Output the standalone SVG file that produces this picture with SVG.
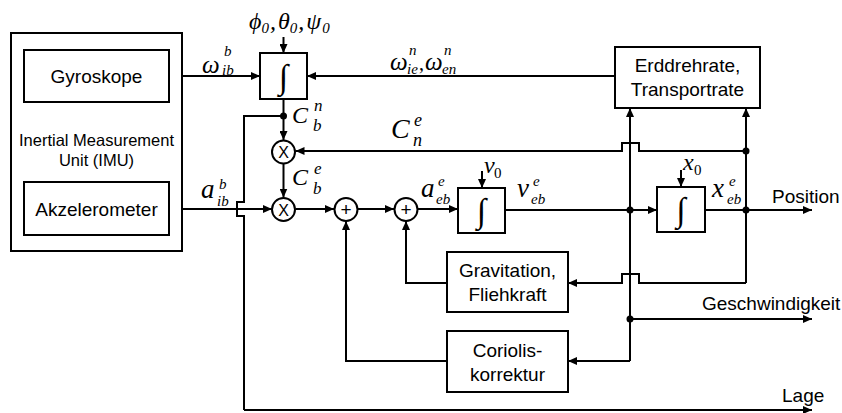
<svg xmlns="http://www.w3.org/2000/svg" width="842" height="413" viewBox="0 0 842 413">
<defs>
<style>
.b{fill:#fff;stroke:#000;stroke-width:2}
.l{fill:none;stroke:#000;stroke-width:2}
.t{font-family:"Liberation Sans",Arial,sans-serif;font-size:19px;fill:#000}
.m{font-family:"Liberation Serif","Times New Roman",serif;font-style:italic;fill:#000}
.u{font-family:"Liberation Serif","Times New Roman",serif;fill:#000}
.i{font-family:"Liberation Serif","Times New Roman",serif;font-size:34px;fill:#000}
.a{marker-end:url(#ar)}
</style>
<marker id="ar" markerUnits="userSpaceOnUse" markerWidth="10" markerHeight="8" refX="9" refY="4" orient="auto">
<path d="M0,0L9,4L0,8Z" fill="#000"/>
</marker>
</defs>
<rect width="842" height="413" fill="#fff"/>

<g id="connectors">
<path class="l a" d="M169,76H260"/>
<path class="l a" d="M283.5,37V53"/>
<path class="l a" d="M615,76H307"/>
<path class="l a" d="M283.5,99V140"/>
<path class="l" d="M283.5,116H244V202H237V216H244V410"/>
<path class="l a" d="M244,410H812"/>
<path class="l a" d="M169,209H272"/>
<path class="l a" d="M283.5,163.5V197.5"/>
<path class="l a" d="M295.5,209H334"/>
<path class="l a" d="M358,209H394"/>
<path class="l a" d="M418,209H458"/>
<path class="l a" d="M505,210H657"/>
<path class="l a" d="M705,210H812"/>
<path class="l a" d="M482,171V188"/>
<path class="l a" d="M681,170V187"/>
<path class="l a" d="M630,361V108"/>
<path class="l a" d="M630,319H812"/>
<path class="l a" d="M630,361H568"/>
<path class="l a" d="M447,361H346V221"/>
<path class="l a" d="M746,283V108"/>
<path class="l a" d="M746,283H639V274H622V283H568"/>
<path class="l a" d="M447,283H406V221"/>
<path class="l a" d="M746,151H639V143H622V151H295.5"/>
<circle cx="283.5" cy="116" r="3.5"/>
<circle cx="630" cy="210" r="3.5"/>
<circle cx="746" cy="210" r="3.5"/>
<circle cx="746" cy="151" r="3.5"/>
<circle cx="630" cy="319" r="3.5"/>
</g>

<g id="imu">
<rect class="b" x="11" y="33" width="171" height="218" fill="none"/>
<text class="t" x="96.5" y="146" text-anchor="middle" style="font-size:16.5px">Inertial Measurement</text>
<text class="t" x="96.5" y="166" text-anchor="middle" style="font-size:16.5px">Unit (IMU)</text>
</g>
<g id="gyroskope">
<rect class="b" x="24" y="50" width="145" height="52"/>
<text class="t" x="96.5" y="83" text-anchor="middle">Gyroskope</text>
</g>
<g id="akzelerometer">
<rect class="b" x="24" y="182" width="145" height="53"/>
<text class="t" x="96.5" y="216" text-anchor="middle">Akzelerometer</text>
</g>
<g id="integrator1">
<rect class="b" x="260" y="53" width="47" height="46"/>
<text class="i" x="283.5" y="88" text-anchor="middle">∫</text>
</g>
<g id="erddrehrate">
<rect class="b" x="615" y="47" width="145" height="61"/>
<text class="t" x="687.5" y="72" text-anchor="middle">Erddrehrate,</text>
<text class="t" x="687.5" y="96" text-anchor="middle">Transportrate</text>
</g>
<g id="mult1">
<circle class="b" cx="283.5" cy="152" r="11.5"/>
<text class="t" x="283.5" y="158" text-anchor="middle" style="font-size:16px">X</text>
</g>
<g id="mult2">
<circle class="b" cx="283.5" cy="209.5" r="11.5"/>
<text class="t" x="283.5" y="215.5" text-anchor="middle" style="font-size:16px">X</text>
</g>
<g id="sum1">
<circle class="b" cx="346" cy="209.5" r="11.5"/>
<text class="t" x="346" y="216" text-anchor="middle">+</text>
</g>
<g id="sum2">
<circle class="b" cx="406" cy="209.5" r="11.5"/>
<text class="t" x="406" y="216" text-anchor="middle">+</text>
</g>
<g id="integrator2">
<rect class="b" x="458" y="188" width="47" height="45"/>
<text class="i" x="481.5" y="222" text-anchor="middle">∫</text>
</g>
<g id="integrator3">
<rect class="b" x="657" y="187" width="48" height="45"/>
<text class="i" x="681" y="221" text-anchor="middle">∫</text>
</g>
<g id="gravitation">
<rect class="b" x="447" y="252" width="121" height="60"/>
<text class="t" x="507.5" y="277" text-anchor="middle">Gravitation,</text>
<text class="t" x="507.5" y="301" text-anchor="middle">Fliehkraft</text>
</g>
<g id="coriolis">
<rect class="b" x="447" y="331" width="121" height="61"/>
<text class="t" x="507.5" y="357" text-anchor="middle">Coriolis-</text>
<text class="t" x="507.5" y="381" text-anchor="middle">korrektur</text>
</g>

<g id="labels">
<text class="t" x="772" y="203">Position</text>
<text class="t" x="702" y="310">Geschwindigkeit</text>
<text class="t" x="782" y="402">Lage</text>

<text class="m" x="249" y="29" font-size="24">ϕ<tspan class="u" font-size="15" dy="4">0</tspan><tspan class="u" dy="-4" dx="1">,</tspan><tspan dx="2">θ</tspan><tspan class="u" font-size="15" dy="4">0</tspan><tspan class="u" dy="-4" dx="1">,</tspan><tspan dx="2">ψ</tspan><tspan class="u" font-size="15" dy="4" dx="1">0</tspan></text>

<text class="m" x="202" y="73" font-size="25">ω</text>
<text class="m" x="224" y="56" font-size="15">b</text>
<text class="m" x="222" y="75" font-size="15">ib</text>

<text class="m" x="390" y="70" font-size="25">ω</text>
<text class="m" x="409" y="55" font-size="15">n</text>
<text class="m" x="407" y="74" font-size="15">ie</text>
<text class="u" x="419" y="70" font-size="20">,</text>
<text class="m" x="425" y="70" font-size="25">ω</text>
<text class="m" x="444" y="55" font-size="15">n</text>
<text class="m" x="442" y="74" font-size="15">en</text>

<text class="m" x="292" y="123" font-size="24">C</text>
<text class="m" x="314" y="111" font-size="17">n</text>
<text class="m" x="313" y="131" font-size="17">b</text>

<text class="m" x="391" y="138" font-size="28">C</text>
<text class="m" x="414" y="126" font-size="18">e</text>
<text class="m" x="413" y="146" font-size="18">n</text>

<text class="m" x="292" y="185" font-size="24">C</text>
<text class="m" x="314" y="174" font-size="17">e</text>
<text class="m" x="313" y="194" font-size="17">b</text>

<text class="m" x="201" y="198" font-size="27">a</text>
<text class="m" x="219" y="189" font-size="15">b</text>
<text class="m" x="217" y="206" font-size="15">ib</text>

<text class="m" x="421" y="197" font-size="27">a</text>
<text class="m" x="438" y="186" font-size="15">e</text>
<text class="m" x="436" y="204" font-size="15">eb</text>

<text class="m" x="517" y="197" font-size="27">v</text>
<text class="m" x="533" y="186" font-size="15">e</text>
<text class="m" x="531" y="204" font-size="15">eb</text>

<text class="m" x="712" y="197" font-size="27">x</text>
<text class="m" x="729" y="186" font-size="15">e</text>
<text class="m" x="727" y="204" font-size="15">eb</text>

<text class="m" x="484" y="173" font-size="24">v</text>
<text class="u" x="494" y="178" font-size="15">0</text>

<text class="m" x="683" y="170" font-size="24">x</text>
<text class="u" x="694" y="175" font-size="15">0</text>
</g>
</svg>
